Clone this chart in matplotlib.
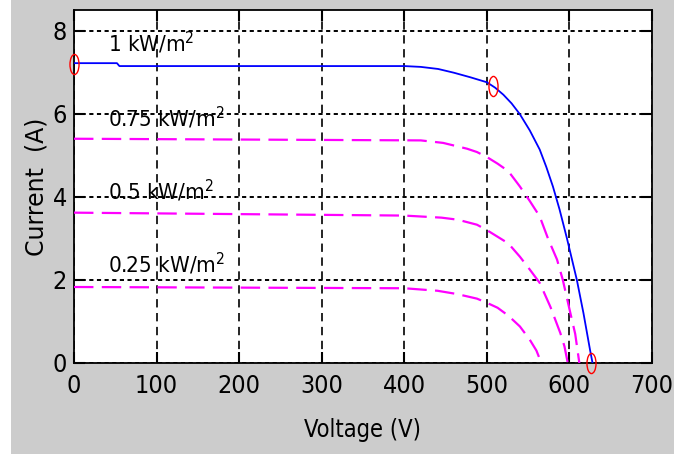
import matplotlib

matplotlib.use("Agg")
import matplotlib.pyplot as plt
from matplotlib.patches import Rectangle
from matplotlib.path import Path
from matplotlib.transforms import Affine2D

# I-V curves of the PV array for four irradiance levels
v_1000 = [0, 52, 55, 400, 420, 441, 460, 480, 500, 510, 520, 530, 540, 552, 564, 572,
          580, 588, 597, 603, 609, 617, 625, 628]
i_1000 = [7.22, 7.22, 7.15, 7.15, 7.13, 7.08, 6.99, 6.88, 6.76, 6.63, 6.46, 6.25, 5.99,
          5.60, 5.14, 4.72, 4.25, 3.70, 3.00, 2.50, 2.00, 1.20, 0.31, 0.0]

v_750 = [0, 420, 447, 476, 488, 500, 513, 526, 540, 552, 564, 574, 585, 592, 600, 607, 612]
i_750 = [5.40, 5.36, 5.30, 5.16, 5.08, 4.96, 4.80, 4.62, 4.25, 3.90, 3.53, 3.00, 2.49,
         2.00, 1.30, 0.70, 0.0]

v_500 = [0, 400, 445, 465, 488, 500, 513, 526, 540, 552, 564, 577, 589, 594, 598]
i_500 = [3.62, 3.55, 3.50, 3.45, 3.33, 3.20, 3.04, 2.88, 2.56, 2.25, 1.93, 1.35, 0.72,
         0.40, 0.0]

v_250 = [0, 400, 440, 464, 488, 500, 513, 526, 540, 552, 560, 566]
i_250 = [1.83, 1.80, 1.74, 1.66, 1.55, 1.45, 1.33, 1.14, 0.88, 0.56, 0.30, 0.0]

# marked points: Isc, MPP, Voc at 1 kW/m2
v_mark = [0, 507, 626]
i_mark = [7.2, 6.68, 0.0]

labels = ["1 kW/m$^2$", "0.75 kW/m$^2$", "0.5 kW/m$^2$", "0.25 kW/m$^2$"]
label_v = [41, 41, 41, 41]
label_i = [7.5, 5.68, 3.94, 2.17]

x_ticks = [0, 100, 200, 300, 400, 500, 600, 700]
y_ticks = [0, 2, 4, 6, 8]

plt.rcParams["font.family"] = ["DejaVu Sans", "Liberation Sans"]
plt.rcParams["font.stretch"] = "condensed"
plt.rcParams["mathtext.fontset"] = "custom"
plt.rcParams["mathtext.rm"] = "DejaVu Sans:stretch=condensed"
plt.rcParams["mathtext.it"] = "DejaVu Sans:stretch=condensed"
plt.rcParams["lines.scale_dashes"] = False

fig = plt.figure(figsize=(6.81, 4.54), dpi=100, facecolor="white")
fig.patches.append(Rectangle((11 / 681, 0), 663 / 681, 1, transform=fig.transFigure,
                             facecolor="#cccccc", edgecolor="none", zorder=-10))
ax = fig.add_axes([74 / 681, 91 / 454, 578 / 681, 353 / 454])
ax.set_facecolor("white")

ax.plot(v_1000, i_1000, color="#0000ff", lw=1.3, zorder=3)
for v, i in [(v_750, i_750), (v_500, i_500), (v_250, i_250)]:
    ax.plot(v, i, color="#ff00ff", lw=1.6, dashes=(14, 6), zorder=3)

ellipse = Path.unit_circle().transformed(Affine2D().scale(0.45, 1.0))
ax.plot(v_mark, i_mark, linestyle="none", marker=ellipse, markersize=14.5,
        markerfacecolor="none", markeredgecolor="#ff0000", markeredgewidth=1.0,
        clip_on=False, zorder=4)

for t, x, y in zip(labels, label_v, label_i):
    ax.text(x, y, t, fontsize=16, color="black", ha="left", va="baseline", zorder=5)

ax.set_xlim(0, 700)
ax.set_ylim(0, 8.5)
ax.set_xticks(x_ticks)
ax.set_yticks(y_ticks)
ax.tick_params(direction="in", length=8, width=1.5, top=True, right=True,
               labelsize=18, pad=5)
ax.tick_params(axis="x", pad=8)

ax.xaxis.grid(True, color="black", lw=1.2, dashes=(6, 4))
ax.yaxis.grid(True, color="black", lw=1.4, dashes=(3, 2.5))
ax.set_axisbelow(True)
for s in ax.spines.values():
    s.set_linewidth(1.3)

ax.set_xlabel("Voltage (V)", fontsize=17, labelpad=14)
ax.set_ylabel("Current  (A)", fontsize=17, family="DejaVu Sans", stretch="normal",
              labelpad=3)

fig.savefig("out.png", dpi=100, facecolor=fig.get_facecolor())
